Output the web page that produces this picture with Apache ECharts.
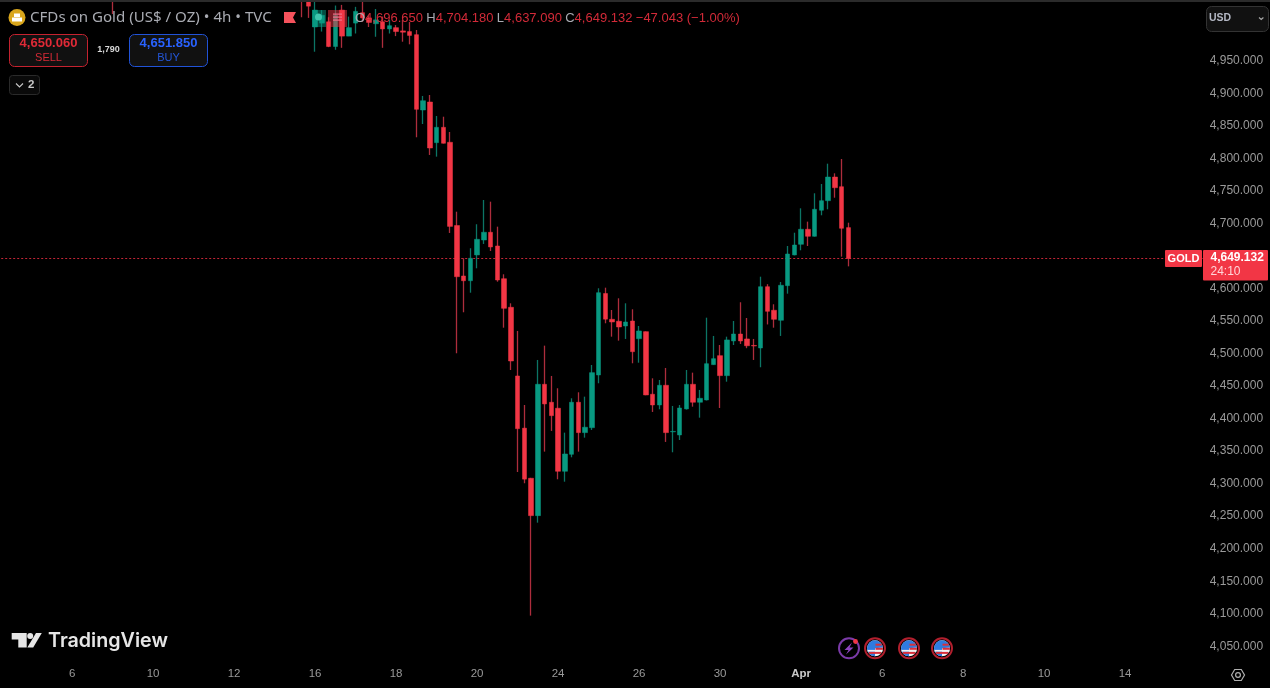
<!DOCTYPE html>
<html><head><meta charset="utf-8">
<style>html,body{margin:0;padding:0;background:#000;overflow:hidden}#c{width:1270px;height:688px}</style>
<script src="https://cdn.jsdelivr.net/npm/echarts@6/dist/echarts.min.js"></script>
</head><body><div id="c"></div>
<script>
const bandCount = 178;
const firstIndex = 44;
const opens = [5070,5060,5005,5011,5013,4975,5031,4991,5011,5027,5019,5010,5013,5002,5004,4999,4998,4993.2,4877.4,4889.7,4827.2,4850.8,4827.8,4699.9,4622.3,4615,4654.6,4677.6,4689.5,4668.4,4618.1,4574.2,4468.6,4388.4,4311.4,4253.9,4455.8,4428.2,4419,4322.1,4348.2,4428.2,4381.5,4389.1,4470.1,4595.4,4555.7,4552.7,4545.4,4553.1,4525.9,4536.7,4440.5,4424,4454.3,4382.7,4377.9,4417.9,4455.8,4428.2,4431.7,4486,4499.8,4469.1,4522.4,4533.1,4525.5,4515.5,4511.6,4605.8,4569.6,4554.2,4607.4,4654.6,4671,4694.1,4683.3,4723.3,4738,4774.4,4759.5,4696.65];
const closes = [5050,5037,5031,5023,4975,5023,4991,5004,5029,5019,5012,5016,5002,5007,4998,4997,4992,4878.5,4891.7,4819,4850.8,4826.3,4698.5,4621.2,4615,4649.5,4678.7,4689.5,4666.9,4616.1,4572.6,4491.6,4387.6,4310,4253.9,4455.8,4425.6,4407.6,4322.1,4348.7,4428.2,4381.5,4389.8,4473.7,4596.6,4555.9,4551.6,4543.9,4551.6,4505.9,4537.8,4439.4,4424,4454.3,4381.5,4383.4,4419.4,4455.8,4428.2,4434.3,4487.5,4495.2,4469.1,4524,4533.1,4522.4,4515,4514.7,4605.8,4568,4555.7,4608,4656.1,4669.9,4694.1,4683.3,4724.8,4738,4774.4,4758,4695.6,4649.132];
const lows = [5020,5019,4967,4998,4974,4970,4973,4991,4995,5013,5005,4990,4973,4995,4991,4982.4,4978.4,4835.5,4855.9,4808.3,4805.7,4826,4688.4,4503.5,4566.5,4596.6,4634.1,4671.5,4660.7,4613.5,4542.8,4477.8,4321,4303.7,4100.2,4243.1,4352.3,4384.1,4309.8,4306.1,4343.6,4352.3,4373.8,4385.6,4457.4,4549.6,4529,4522.9,4525.5,4488.1,4489,4439,4413.3,4417.4,4367.2,4351.3,4370.2,4417,4421.4,4404.5,4431,4486,4419.4,4459.8,4516.2,4517.8,4511.3,4493.2,4482,4547.8,4542.8,4530.1,4595.1,4654,4661.8,4668.4,4683,4715.6,4724.8,4742.6,4652,4637.09];
const highs = [5075,5065,5046,5031,5020,5038,5039,5021,5036,5044,5023,5032.7,5021,5015.8,5008,5015.8,5012.7,5000.4,4899,4900.5,4868.2,4867.1,4843.6,4721.1,4649.5,4664.9,4701.8,4739.1,4736.5,4698.1,4624.9,4580.3,4537.8,4424,4312,4493.2,4515.2,4468.6,4449.7,4381.5,4434.3,4443.5,4436.8,4485.5,4603.4,4604.3,4570,4588,4580.3,4571.1,4545.4,4537,4465,4462.4,4480.9,4422.5,4424,4477.8,4473.7,4447.1,4558.2,4530.1,4516.2,4529,4553.1,4581.9,4557.7,4525.5,4621.2,4609.7,4578.8,4613,4668.4,4688.8,4726.3,4705.8,4749.4,4763.7,4794.9,4780.1,4802.1,4704.18];
const strayIndex = 16;
const strayCandle = [5110, 5100, 5025, 5120];
const lastPrice = 4649.132;
const tickLabels = ['6','10','12','16','18','20','24','26','30','Apr','6','8','10','14'];
const tickStart = 10, tickStep = 12;

const UP='#089981', DOWN='#f23645', AXIS='#9a9a9a';
const categories = Array.from({length:bandCount},()=> '');
tickLabels.forEach((t,k)=>{categories[tickStart+k*tickStep]=t;});
const blank=['-','-','-','-'];
const wickData = categories.map(()=>blank), bodyData = categories.map(()=>blank);
wickData[strayIndex]=strayCandle;
opens.forEach((o,k)=>{
  const c=closes[k];
  wickData[firstIndex+k]=[o,c,lows[k],highs[k]];
  bodyData[firstIndex+k]=[o,c,Math.min(o,c),Math.max(o,c)];
});
const fmt=v=>v.toLocaleString('en-US',{minimumFractionDigits:3,maximumFractionDigits:3});
const FONT='"Liberation Sans",Arial,sans-serif';
const T=(x,y,text,fill,size,o={})=>({type:'text',z:20,x,y,style:Object.assign({text,fill,font:`${o.weight||'normal'} ${size}px ${o.family||FONT}`,align:o.align||'left',verticalAlign:'middle'},o.style||{})});
const R=(x,y,w,h,fill,stroke,r=0,op=1)=>({type:'rect',z:15,shape:{x,y,width:w,height:h,r},style:{fill,stroke:stroke||null,lineWidth:stroke?1:0,opacity:op}});
const flag=cx=>{const cy=648.3;return [
  {type:'circle',z:15,shape:{cx,cy,r:10},style:{fill:'#000',stroke:'#b21f2d',lineWidth:2}},
  {type:'circle',z:16,shape:{cx,cy,r:8},style:{fill:'#f2f2f2'}},
  {type:'sector',z:17,shape:{cx,cy,r:8,r0:0,startAngle:Math.PI*0.5,endAngle:Math.PI*1.97},style:{fill:'#2f7be0'}},
  {type:'rect',z:17,shape:{x:cx+0.5,y:cy-4.6,width:6.2,height:2},style:{fill:'#d8303c'}},
  {type:'rect',z:17,shape:{x:cx+0.5,y:cy-0.6,width:7.4,height:2.2},style:{fill:'#d8303c'}},
  {type:'rect',z:17,shape:{x:cx-7.4,y:cy+1.6,width:14.8,height:1.8},style:{fill:'#f2f2f2'}},
  {type:'rect',z:17,shape:{x:cx-6.2,y:cy+3.6,width:12.4,height:2},style:{fill:'#d8303c'}}
];};
const graphics=[
  R(0,0,1270,2,'#2b2b2b'),
  {type:'circle',z:15,shape:{cx:17,cy:17.5,r:8.5},style:{fill:'#d9a61c'}},
  R(12,17.5,10,4,'#fff'),R(14,13.5,6,3.5,'#fff'),
  T(30,18,'CFDs on Gold (US$ / OZ) • 4h • TVC','#a9abb2',15.1,{family:'"Noto Sans",sans-serif'}),
  {type:'polygon',z:15,shape:{points:[[284,12],[296,12],[293,17.5],[296,23],[284,23]]},style:{fill:'#f5525c'}},
  R(312,10,14,17,'rgba(8,153,129,0.5)'),{type:'circle',z:16,shape:{cx:318.5,cy:17,r:3.5},style:{fill:'#3fc6ae'}},
  R(328,10,19,17,'rgba(242,54,69,0.5)'),R(333,13.5,9,1.2,'#f3718b'),R(333,16.5,9,1.2,'#f3718b'),R(333,19.5,9,1.2,'#f3718b'),
  {type:'text',z:20,x:355,y:18,style:{text:'{g|O}{r|4,696.650} {g|H}{r|4,704.180} {g|L}{r|4,637.090} {g|C}{r|4,649.132} {r|−47.043 (−1.00%)}',verticalAlign:'middle',rich:{g:{fill:'#a9abb2',font:'13px '+FONT},r:{fill:'#d22a38',font:'13px '+FONT}}}},
  R(9.5,34.5,78,32,'#111','#c5222f',5),
  T(48.5,43.5,'4,650.060','#e02a37',13,{align:'center',weight:'bold'}),
  T(48.5,57.5,'SELL','#d42a36',11,{align:'center'}),
  T(108.5,50,'1,790','#d8d8d8',9,{align:'center',weight:'bold'}),
  R(129.5,34.5,78,32,'#111','#2153d8',5),
  T(168.5,43.5,'4,651.850','#2962ff',13,{align:'center',weight:'bold'}),
  T(168.5,57.5,'BUY','#2456d8',11,{align:'center'}),
  R(9.5,75.5,30,19,'#0a0a0a','#2a2a2a',3),
  {type:'polyline',z:20,shape:{points:[[16,83.5],[19.5,87],[23,83.5]]},style:{stroke:'#c8c8c8',fill:null,lineWidth:1.1}},
  T(28,85,'2','#c8c8c8',11.5,{weight:'bold'}),
  R(1206.5,6.5,62,25,'#111','#333',5),
  T(1209,18.5,'USD','#b4b8c4',10.5,{weight:'bold'}),
  {type:'polyline',z:20,shape:{points:[[1259,17.5],[1261.2,19.5],[1263.4,17.5]]},style:{stroke:'#aaa',fill:null,lineWidth:1.1}},
  R(1165,250,37,17,'#f23645',null,1),
  T(1183.5,259,'GOLD','#fff',11,{align:'center',weight:'bold'}),
  R(1203,250,65,30.5,'#f23645',null,1),
  T(1210.5,257.5,fmt(lastPrice),'#fff',12,{weight:'bold'}),
  T(1210.5,271.5,'24:10','#ffd6d9',12),
  {type:'polygon',z:15,shape:{points:[[11.7,633],[26.7,633],[26.7,647.6],[18.3,647.6],[18.3,639.4],[11.7,639.4]]},style:{fill:'#e6e6e6'}},
  {type:'circle',z:15,shape:{cx:30.2,cy:636,r:3},style:{fill:'#e6e6e6'}},
  {type:'polygon',z:15,shape:{points:[[36,633],[41.8,633],[33.2,647.6],[27.3,647.6]]},style:{fill:'#e6e6e6'}},
  T(48,641,'TradingView','#e6e6e6',19.7,{family:'Inter',weight:'600'}),
  {type:'circle',z:15,shape:{cx:849,cy:648.3,r:10},style:{fill:'#000',stroke:'#7b3aa8',lineWidth:2}},
  {type:'polygon',z:16,shape:{points:[[852,642.5],[844.5,650],[848.5,650],[846,654.5],[853.5,647.5],[849.5,647.5]]},style:{fill:'#8e44c0'}},
  {type:'circle',z:17,shape:{cx:855.5,cy:641.5,r:2.4},style:{fill:'#f23645'}},
  ...flag(875),...flag(909),...flag(942),
  {type:'polygon',z:15,shape:{points:[[1231.5,675],[1234.7,669.5],[1241.3,669.5],[1244.5,675],[1241.3,680.5],[1234.7,680.5]]},style:{fill:null,stroke:'#b0b0b0',lineWidth:1.2}},
  {type:'circle',z:15,shape:{cx:1238,cy:675,r:2.4},style:{fill:null,stroke:'#b0b0b0',lineWidth:1.2}}
];
const chart=echarts.init(document.getElementById('c'),null,{renderer:'canvas'});
chart.setOption({
  animation:false,backgroundColor:'#000',
  grid:{left:1.2,right:67.3,top:0,bottom:39.7,containLabel:false},
  xAxis:{type:'category',data:categories,boundaryGap:true,axisLine:{show:false},axisTick:{show:false},splitLine:{show:false},
    axisLabel:{interval:0,margin:20,color:AXIS,fontSize:11.5,fontFamily:FONT,formatter:v=>v==='Apr'?'{b|Apr}':v,rich:{b:{color:'#c9c9c9',fontSize:11.5,fontWeight:'bold',fontFamily:FONT}}}},
  yAxis:{type:'value',position:'right',min:4050,max:5046.5,interval:50,scale:true,axisLine:{show:false},axisTick:{show:false},splitLine:{show:false},
    axisLabel:{margin:7,color:AXIS,fontSize:12,fontFamily:FONT,align:'left',showMaxLabel:false,verticalAlign:'bottom',lineHeight:4,formatter:v=>v>4950?'':fmt(v)}},
  graphic:{elements:graphics},
  series:[
    {type:'candlestick',name:'wick',data:wickData,barWidth:1,z:2,silent:true,
     itemStyle:{color:'#0c7565',color0:'#ad2d3c',borderColor:'#0c7565',borderColor0:'#ad2d3c',borderWidth:1.3},
     markLine:{silent:true,symbol:'none',label:{show:false},lineStyle:{color:'#c22536',type:[2,2],width:1},data:[{yAxis:lastPrice}],z:1}},
    {type:'candlestick',name:'body',data:bodyData,barWidth:5,z:3,silent:true,
     itemStyle:{color:UP,color0:DOWN,borderColor:UP,borderColor0:DOWN,borderWidth:0.5}}
  ]
});
</script></body></html>
